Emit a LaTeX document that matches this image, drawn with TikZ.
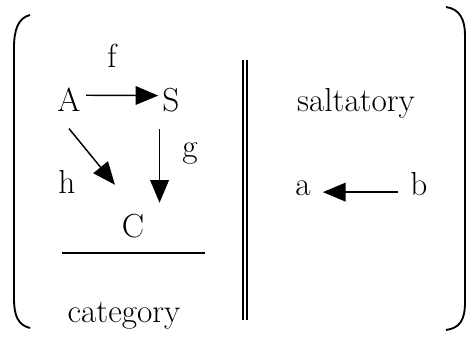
\documentclass[tikz,border=0pt]{standalone}
\usepackage{tikz}
\usetikzlibrary{arrows.meta,positioning}
\tikzset{
    obj/.style={anchor=base, inner sep=2pt, font=\fontsize{25}{30}\selectfont},
    arr/.style={line width=1.1pt, -{Triangle[length=17pt,width=14pt]}},
    paren/.style={line width=1.4pt}
}

\begin{document}
\begin{tikzpicture}[x=0.75pt,y=-0.75pt]
    \useasboundingbox (0,0) rectangle (468,339);

    % Brackets
    \draw[paren] (30,15) .. controls (18,18) and (14,30) .. (14,48) -- (14,298)
        .. controls (14,316) and (18,325) .. (30,328);
    \draw[paren] (446,7) .. controls (460,9) and (465,20) .. (465,35) -- (465,302)
        .. controls (465,320) and (460,328) .. (446,330);

    % Category side
    \node[obj] (A) at (69,111) {A};
    \node[obj] (S) at (171,111) {S};
    \node[obj] (C) at (133,237) {C};
    \node[obj] (f) at (112,67) {f};
    \node[obj] (g) at (190,157) {g};
    \node[obj] (h) at (67,193) {h};

    \draw[arr, shorten <=2pt, shorten >=1pt] ([yshift=3pt]A.east) -- ([yshift=3pt]S.west);
    \draw[arr, shorten <=11pt, shorten >=6pt] (S.south west) -- (S.south west |- C.north);
    \draw[arr] ([yshift=-11pt]A.south) -- ([shift={(-3pt,19.5pt)}]C.north west);

    \coordinate (rl) at (62,253);
    \coordinate (rr) at (205,253);
    \draw[line width=1.1pt] (rl) -- (rr);
    \node[obj] (cat) at (124,322) {category};

    % Divider
    \coordinate (dt) at (245,60);
    \coordinate (db) at (245,320);
    \draw[line width=1.2pt, double, double distance=2pt] (dt) -- (db);

    % Saltatory side
    \node[obj] (salt) at (356,111) {saltatory};
    \node[obj] (a) at (303,195) {a};
    \node[obj] (b) at (419,195) {b};
    \draw[arr, shorten <=7pt, shorten >=7pt] (b.mid west) -- (a.mid east);

\end{tikzpicture}
\end{document}
